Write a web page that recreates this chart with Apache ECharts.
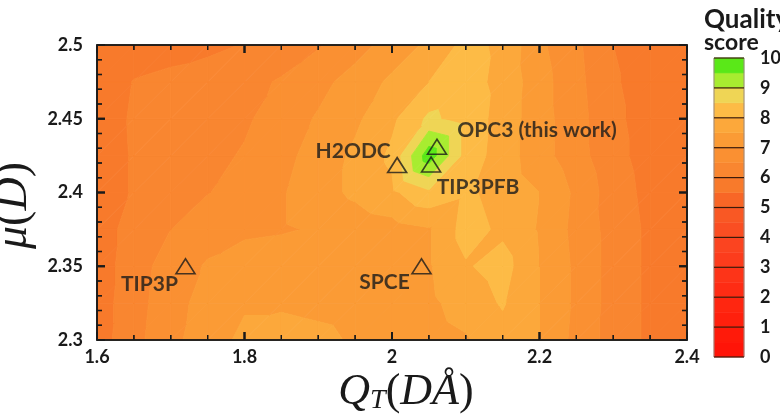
<!DOCTYPE html>
<html><head><meta charset="utf-8">
<script src="https://cdn.jsdelivr.net/npm/echarts@6/dist/echarts.min.js"></script>
<style>html,body{margin:0;padding:0;background:#fff}#c{width:780px;height:416px}#err{position:absolute;left:0;top:0;font:10px monospace;color:#00f;white-space:pre}</style>
</head><body><div id="c"></div><div id="err"></div>
<script>
window.onerror = function (m) { document.getElementById('err').textContent += m + '\n'; };
// ---- data ----
const qtValues = [1.6,1.65,1.7,1.75,1.8,1.85,1.9,1.95,2.0,2.05,2.1,2.15,2.2,2.25,2.3,2.35,2.4];
const muValues = [2.3,2.325,2.35,2.375,2.4,2.425,2.45,2.475,2.5];
// quality score grid: one row per muValues entry (bottom to top), one column per qtValues entry
const qualityGrid = [
  [5.75,6.35,6.85,7.3,7.6,7.65,7.6,7.45,7.3,7.3,7.45,7.8,7.5,6.85,6.3,5.9,5.6],
  [5.75,6.3,6.8,7.2,7.45,7.45,7.4,7.35,7.3,7.4,7.7,8.05,7.5,6.9,6.3,5.9,5.6],
  [5.75,6.25,6.75,7.05,7.25,7.3,7.3,7.3,7.35,7.45,7.95,8.2,7.5,6.9,6.3,5.9,5.6],
  [5.75,6.2,6.5,6.8,6.9,6.95,7.05,7.2,7.3,7.45,8.2,7.9,7.45,6.85,6.3,5.9,5.6],
  [5.7,6.05,6.3,6.48,6.7,6.95,7.3,7.6,7.9,8.4,8.1,7.8,7.5,6.9,6.25,5.85,5.6],
  [5.7,6.05,6.2,6.35,6.55,6.85,7.2,7.6,8.1,9.8,8.3,7.75,7.2,6.7,6.15,5.8,5.6],
  [5.7,6.07,6.15,6.3,6.42,6.75,7.05,7.4,7.9,8.6,8.3,7.8,7.2,6.7,6.1,5.8,5.6],
  [5.7,6.02,6.1,6.2,6.35,6.55,6.85,7.2,7.6,8.0,8.2,7.85,7.2,6.65,6.05,5.8,5.6],
  [5.6,5.75,5.85,5.9,6.02,6.2,6.45,6.8,7.2,7.6,8.15,7.9,7.1,6.6,6.0,5.8,5.6]
];
const levelBounds = [0,0.5,1,1.5,2,2.5,3,3.5,4,4.5,5,5.5,6,6.5,7,7.5,8,8.5,9,9.5,10];
const levelColors = ['#ff1408','#ff1a0a','#ff200d','#ff2610','#fe2c14','#fd3418','#fc3c1c','#fb4420',
  '#fa4e22','#f95824','#f86626','#f87a2b','#f98630','#fa9032','#fb9b35','#fca83b','#fdbb46','#efd555','#a8ec30','#5ae818'];
const scoreTicks = [0,1,2,3,4,5,6,7,8,9,10];
const qtMajorTicks = [1.6,1.8,2.0,2.2,2.4];
const qtMinorTicks = [1.65,1.7,1.75,1.85,1.9,1.95,2.05,2.1,2.15,2.25,2.3,2.35];
const muMajorTicks = [2.3,2.35,2.4,2.45,2.5];
const muMinorTicks = [2.31,2.32,2.33,2.34,2.36,2.37,2.38,2.39,2.41,2.42,2.43,2.44,2.46,2.47,2.48,2.49];
const modelNames = ['TIP3P','SPCE','H2ODC','OPC3 (this work)','TIP3PFB'];
const modelQT = [1.72,2.04,2.007,2.061,2.053];
const modelMu = [2.35,2.35,2.4186,2.431,2.419];
const labelOffsets = [[-36,18],[-37,16],[-44,-14],[100,-17],[47,23]];

const ink = '#1a1a1a';
const xMin = qtValues[0], xMax = qtValues[qtValues.length - 1];
const yMin = muValues[0], yMax = muValues[muValues.length - 1];

// ---- helpers ----
function clipPoly(pts, f) {
  const out = [];
  for (let i = 0; i < pts.length; i++) {
    const a = pts[i], b = pts[(i + 1) % pts.length];
    const fa = f(a), fb = f(b);
    if (fa >= 0) out.push(a);
    if ((fa >= 0) !== (fb >= 0)) {
      const t = fa / (fa - fb);
      out.push([a[0] + t * (b[0] - a[0]), a[1] + t * (b[1] - a[1]), a[2] + t * (b[2] - a[2])]);
    }
  }
  return out;
}
const cells = [];
for (let j = 0; j < muValues.length - 1; j++)
  for (let i = 0; i < qtValues.length - 1; i++)
    cells.push([(qtValues[i] + qtValues[i + 1]) / 2, (muValues[j] + muValues[j + 1]) / 2, i, j]);

// frame and tick marks, placed through the axes' scales
function frameElements(coord) {
  const els = [];
  const a = coord([xMin, yMax]), b = coord([xMax, yMin]);
  const L = (x1, y1, x2, y2, w) => ({ type: 'rect', z2: 100,
    shape: { x: Math.min(x1, x2) - (x1 === x2 ? w / 2 : 0), y: Math.min(y1, y2) - (y1 === y2 ? w / 2 : 0),
             width: x1 === x2 ? w : Math.abs(x2 - x1), height: y1 === y2 ? w : Math.abs(y2 - y1) },
    style: { fill: ink } });
  els.push(L(a[0] - 0.8, a[1], b[0] + 0.8, a[1], 1.6), L(a[0] - 0.8, b[1], b[0] + 0.8, b[1], 1.6),
           L(a[0], a[1], a[0], b[1], 1.6), L(b[0], a[1], b[0], b[1], 1.6));
  const xt = (v, len, w) => { const x = coord([v, yMin])[0]; els.push(L(x, b[1] - len, x, b[1], w), L(x, a[1], x, a[1] + len, w)); };
  const yt = (v, len, w) => { const y = coord([xMin, v])[1]; els.push(L(a[0], y, a[0] + len, y, w), L(b[0] - len, y, b[0], y, w)); };
  qtMajorTicks.forEach(v => xt(v, 8, 2)); qtMinorTicks.forEach(v => xt(v, 5, 1.3));
  muMajorTicks.forEach(v => yt(v, 8, 2)); muMinorTicks.forEach(v => yt(v, 5, 1.3));
  return els;
}

function renderCell(params, api) {
  const i = api.value(2), j = api.value(3);
  const p00 = [qtValues[i], muValues[j], qualityGrid[j][i]];
  const p10 = [qtValues[i + 1], muValues[j], qualityGrid[j][i + 1]];
  const p11 = [qtValues[i + 1], muValues[j + 1], qualityGrid[j + 1][i + 1]];
  const p01 = [qtValues[i], muValues[j + 1], qualityGrid[j + 1][i]];
  const tris = [[p00, p10, p11], [p00, p11, p01]];
  const children = [];
  tris.forEach(tri => {
    for (let k = 0; k < levelColors.length; k++) {
      const lo = levelBounds[k], hi = levelBounds[k + 1];
      let poly = clipPoly(tri, p => p[2] - lo);
      if (poly.length < 3) continue;
      poly = clipPoly(poly, p => hi - p[2]);
      if (poly.length < 3) continue;
      children.push({
        type: 'polygon',
        shape: { points: poly.map(p => api.coord([p[0], p[1]])) },
        style: { fill: levelColors[k], stroke: levelColors[k], lineWidth: 0.9 }
      });
    }
  });
  if (params.dataIndex === cells.length - 1) {
    frameElements(p => api.coord(p)).forEach(e => children.push(e));
  }
  return { type: 'group', children };
}

function renderBar(params, api) {
  const k = api.value(2);
  const lo = levelBounds[k], hi = levelBounds[k + 1];
  const a = api.coord([0, lo]), b = api.coord([1, hi]);
  const children = [{
    type: 'rect', shape: { x: a[0], y: b[1], width: b[0] - a[0], height: a[1] - b[1] },
    style: { fill: levelColors[k], stroke: levelColors[k], lineWidth: 0.5 }
  }];
  children.push({ type: 'line', z2: 5, shape: { x1: a[0], y1: a[1], x2: a[0], y2: b[1] }, style: { stroke: '#9a8a80', lineWidth: 1 } });
  children.push({ type: 'line', z2: 5, shape: { x1: b[0], y1: a[1], x2: b[0], y2: b[1] }, style: { stroke: '#9a8a80', lineWidth: 1 } });
  if (scoreTicks.indexOf(lo) >= 0) children.push({ type: 'line', z2: 10, shape: { x1: a[0], y1: a[1], x2: b[0], y2: a[1] }, style: { stroke: '#3a1a0a', lineWidth: 1.2 } });
  if (k === levelColors.length - 1) children.push({ type: 'line', z2: 10, shape: { x1: a[0], y1: b[1], x2: b[0], y2: b[1] }, style: { stroke: '#3a1a0a', lineWidth: 1.2 } });
  return { type: 'group', children };
}

const fmt = v => String(+(+v).toFixed(2));
const lab = { fontFamily: 'Lato', fontWeight: 'bold', fontSize: 18, color: ink };

const chart = echarts.init(document.getElementById('c'), null, { renderer: 'canvas' });
chart.setOption({
  backgroundColor: '#fff',
  animation: false,
  grid: [
    { left: 97, top: 45, width: 590, height: 295, outerBoundsMode: 'none', containLabel: false },
    { left: 714, top: 58, width: 30, height: 299, outerBoundsMode: 'none', containLabel: false }
  ],
  title: {
    text: '{q|Quality}\n{s|score}', left: 699, top: 2,
    textStyle: { rich: {
      q: { fontFamily: 'Lato', fontWeight: 'bold', fontSize: 26, color: ink, lineHeight: 25 },
      s: { fontFamily: 'Lato', fontWeight: 'bold', fontSize: 23, color: ink, lineHeight: 22 } } }
  },
  xAxis: [
    { gridIndex: 0, type: 'value', min: 1.6, max: 2.4, interval: 0.2, position: 'bottom',
      axisLine: { show: false }, axisTick: { show: false },
      splitLine: { show: false }, axisLabel: Object.assign({ margin: 8, formatter: fmt }, lab),
      name: '{i|Q}{s|T}{n|(}{i|DÅ}{n|)}', nameLocation: 'middle', nameGap: 28,
      nameTextStyle: { padding: [0, 0, 0, 28], rich: {
        i: { fontFamily: 'Liberation Serif', fontStyle: 'italic', fontSize: 44, color: ink },
        s: { fontFamily: 'Liberation Serif', fontStyle: 'italic', fontSize: 28, color: ink, padding: [16, 0, 0, 0] },
        n: { fontFamily: 'Liberation Serif', fontSize: 44, color: ink } } } },
    { gridIndex: 1, type: 'value', min: 0, max: 1, show: false }
  ],
  yAxis: [
    { gridIndex: 0, type: 'value', min: 2.3, max: 2.5, interval: 0.05, position: 'left',
      axisLine: { show: false }, axisTick: { show: false },
      splitLine: { show: false }, axisLabel: Object.assign({ margin: 14, formatter: fmt }, lab),
      name: '{i|μ}{n|(}{i|D}{n|)}', nameLocation: 'middle', nameGap: 52, nameRotate: 90,
      nameTextStyle: { padding: [0, 26, 0, 0], rich: {
        i: { fontFamily: 'Liberation Serif', fontStyle: 'italic', fontSize: 46, color: ink },
        n: { fontFamily: 'Liberation Serif', fontSize: 46, color: ink } } } },
    { gridIndex: 1, type: 'value', min: 0, max: 10, interval: 1, position: 'right',
      axisLine: { show: false }, axisTick: { show: false }, splitLine: { show: false },
      axisLabel: Object.assign({ margin: 16, padding: [10, 0, 0, 0] }, lab) }
  ],
  series: [
    { type: 'custom', xAxisIndex: 0, yAxisIndex: 0,
      data: cells, encode: { x: 0, y: 1 }, renderItem: renderCell, z: 2 },
    { type: 'custom', xAxisIndex: 1, yAxisIndex: 1,
      data: levelColors.map((c, k) => [0.5, (levelBounds[k] + levelBounds[k + 1]) / 2, k]),
      encode: { x: 0, y: 1 }, renderItem: renderBar, z: 2 },
    { type: 'scatter', xAxisIndex: 0, yAxisIndex: 0, z: 4,
      symbol: 'triangle', symbolSize: [19, 15],
      itemStyle: { color: 'rgba(0,0,0,0)', borderColor: ink, borderWidth: 1.6 },
      data: modelNames.map((n, k) => ({
        name: n, value: [modelQT[k], modelMu[k]],
        label: { show: true, position: 'inside', offset: labelOffsets[k], formatter: '{b}',
          fontFamily: 'Lato', fontWeight: 'bold', fontSize: 21, color: ink }
      }))
    }
  ]
});
// second copy of the frame through the graphic component (pixel positions from the axes' scales)
chart.setOption({
  graphic: { elements: frameElements(p => chart.convertToPixel({ gridIndex: 0 }, p)).map(e => Object.assign(e, { z: 50, silent: true })) }
});
</script></body></html>
